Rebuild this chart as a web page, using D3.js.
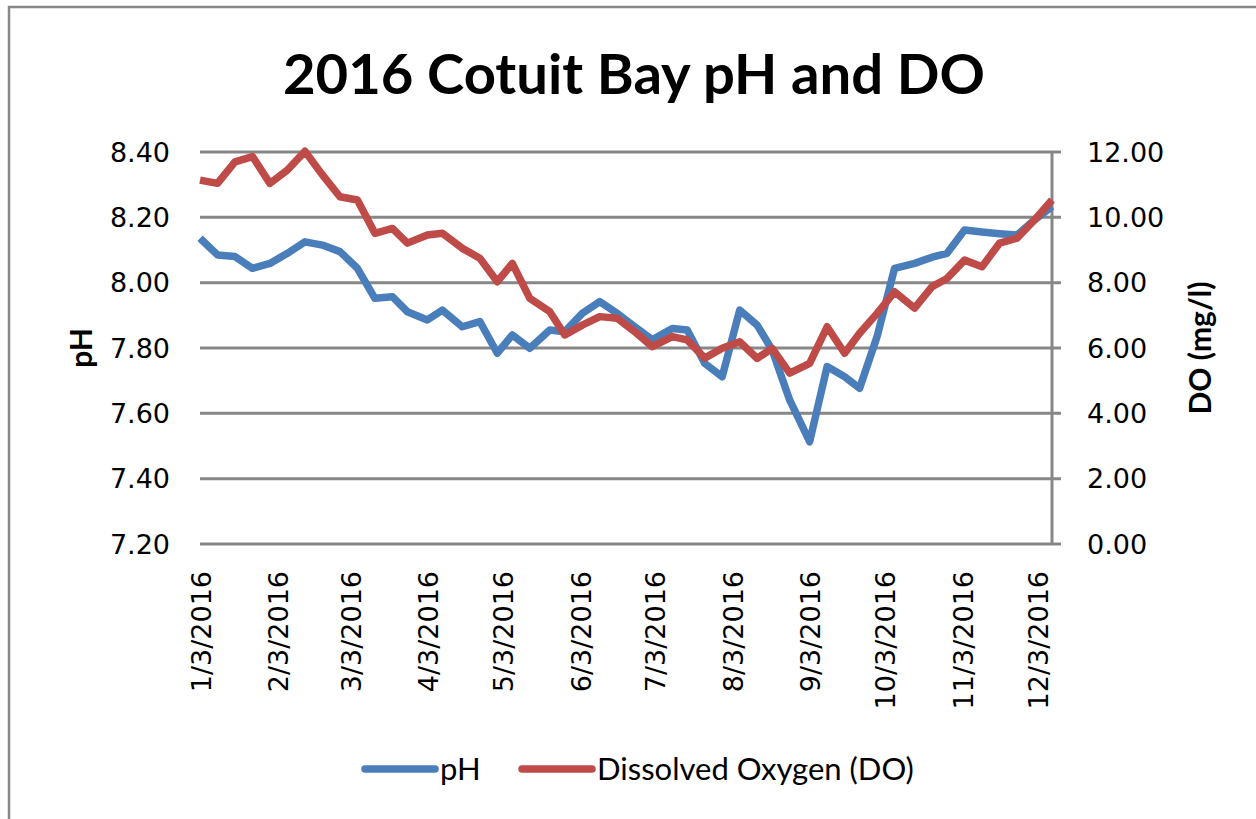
<!DOCTYPE html>
<html>
<head>
<meta charset="utf-8">
<script src="https://cdn.jsdelivr.net/npm/d3@7"></script>
<style>
  body { margin: 0; background: #fff; }
  .tick-label { font-family: "DejaVu Sans", Verdana, sans-serif; font-size: 27px; fill: #000; }
  .axis-title { font-family: Lato, "Open Sans", sans-serif; font-weight: bold; font-size: 30px; fill: #000; }
  .legend text { font-family: Lato, "Open Sans", sans-serif; font-size: 31px; fill: #000; }
</style>
</head>
<body>
<svg width="1256" height="819"></svg>
<script>
// sample dates (2016) and readings
const dates = [
  '1/3', '1/10', '1/17', '1/24', '1/31', '2/7', '2/14', '2/21', '2/28', '3/6',
  '3/13', '3/20', '3/26', '4/3', '4/9', '4/17', '4/24', '5/1', '5/7', '5/14',
  '5/22', '5/28', '6/4', '6/11', '6/18', '6/25', '7/2', '7/10', '7/16', '7/23',
  '7/30', '8/6', '8/13', '8/19', '8/26', '9/3', '9/10', '9/17', '9/23', '9/30',
  '10/7', '10/15', '10/22', '10/28', '11/4', '11/11', '11/18', '11/25', '12/2', '12/9'
];

const ph = [
  8.136, 8.085, 8.080, 8.044, 8.059, 8.090, 8.125, 8.115, 8.095, 8.044,
  7.952, 7.957, 7.911, 7.886, 7.916, 7.865, 7.881, 7.784, 7.840, 7.799,
  7.855, 7.850, 7.906, 7.942, 7.906, 7.865, 7.825, 7.860, 7.855, 7.753,
  7.712, 7.916, 7.870, 7.794, 7.641, 7.513, 7.743, 7.712, 7.677, 7.835,
  8.044, 8.059, 8.078, 8.090, 8.161, 8.155, 8.150, 8.146, 8.192, 8.233
];

const dissolvedOxygen = [
  11.14, 11.04, 11.70, 11.86, 11.04, 11.45, 12.02, 11.30, 10.63, 10.53,
  9.51, 9.66, 9.21, 9.46, 9.51, 9.05, 8.75, 8.03, 8.59, 7.52,
  7.11, 6.40, 6.70, 6.96, 6.91, 6.50, 6.04, 6.35, 6.25, 5.69,
  5.99, 6.19, 5.68, 5.99, 5.23, 5.53, 6.65, 5.84, 6.45, 7.06,
  7.72, 7.22, 7.88, 8.13, 8.69, 8.49, 9.21, 9.36, 9.92, 10.53
];

const xTickLabels = [
  '1/3/2016', '2/3/2016', '3/3/2016', '4/3/2016', '5/3/2016', '6/3/2016',
  '7/3/2016', '8/3/2016', '9/3/2016', '10/3/2016', '11/3/2016', '12/3/2016'
];
const phTicks = [7.2, 7.4, 7.6, 7.8, 8.0, 8.2, 8.4];
const doTicks = [0, 2, 4, 6, 8, 10, 12];

const parse = d3.timeParse('%m/%d/%Y');
const when = dates.map(d => parse(d + '/2016'));

const svg = d3.select('svg');
const plotLeft = 200, plotRight = 1052, plotTop = 152, plotBottom = 544;

// chart frame
svg.append('rect')
  .attr('x', 9).attr('y', 7)
  .attr('width', 1270).attr('height', 840)
  .attr('fill', '#fff')
  .attr('stroke', '#898989')
  .attr('stroke-width', 2.5);

const x = d3.scaleTime()
  .domain([when[0], when[when.length - 1]])
  .range([plotLeft, plotRight]);
const yPh = d3.scaleLinear().domain([7.2, 8.4]).range([plotBottom, plotTop]);
const yDo = d3.scaleLinear().domain([0, 12]).range([plotBottom, plotTop]);

// gridlines
svg.append('g')
  .selectAll('line')
  .data(phTicks)
  .join('line')
  .attr('x1', plotLeft).attr('x2', plotRight + 9)
  .attr('y1', d => yPh(d)).attr('y2', d => yPh(d))
  .attr('stroke', '#878787')
  .attr('stroke-width', 3);

// right axis line
svg.append('line')
  .attr('x1', plotRight).attr('x2', plotRight)
  .attr('y1', plotTop).attr('y2', plotBottom)
  .attr('stroke', '#878787')
  .attr('stroke-width', 3);

// left tick labels
svg.append('g')
  .selectAll('text')
  .data(phTicks)
  .join('text')
  .attr('class', 'tick-label')
  .attr('x', 170)
  .attr('y', d => yPh(d))
  .attr('dy', '0.36em')
  .attr('text-anchor', 'end')
  .text(d => d.toFixed(2));

// right tick labels
svg.append('g')
  .selectAll('text')
  .data(doTicks)
  .join('text')
  .attr('class', 'tick-label')
  .attr('x', 1087)
  .attr('y', d => yDo(d))
  .attr('dy', '0.36em')
  .text(d => d.toFixed(2));

// x tick labels
svg.append('g')
  .selectAll('text')
  .data(xTickLabels)
  .join('text')
  .attr('class', 'tick-label')
  .attr('transform', d => `translate(${x(parse(d)) + 1},571) rotate(-90)`)
  .attr('dy', '0.36em')
  .attr('text-anchor', 'end')
  .text(d => d);

// axis titles
svg.append('text')
  .attr('class', 'axis-title')
  .attr('transform', 'translate(81,348) rotate(-90)')
  .attr('text-anchor', 'middle')
  .attr('dy', '0.35em')
  .text('pH');

svg.append('text')
  .attr('class', 'axis-title')
  .attr('transform', 'translate(1200,348) rotate(-90)')
  .attr('text-anchor', 'middle')
  .attr('dy', '0.35em')
  .text('DO (mg/l)');

// title
svg.append('text')
  .attr('x', 634).attr('y', 94)
  .attr('text-anchor', 'middle')
  .attr('font-family', 'Lato, "Open Sans", sans-serif')
  .attr('font-weight', 'bold')
  .attr('font-size', 56)
  .attr('textLength', 702)
  .attr('lengthAdjust', 'spacingAndGlyphs')
  .text('2016 Cotuit Bay pH and DO');

// lines
const phLine = d3.line()
  .x((d, i) => x(when[i]))
  .y(d => yPh(d));
const doLine = d3.line()
  .x((d, i) => x(when[i]))
  .y(d => yDo(d));

svg.append('path')
  .datum(ph)
  .attr('d', phLine)
  .attr('fill', 'none')
  .attr('stroke', '#4A7EBB')
  .attr('stroke-width', 7.5)
  .attr('stroke-linejoin', 'round');

svg.append('path')
  .datum(dissolvedOxygen)
  .attr('d', doLine)
  .attr('fill', 'none')
  .attr('stroke', '#BE4B48')
  .attr('stroke-width', 7.5)
  .attr('stroke-linejoin', 'round');

// legend
const legend = svg.append('g').attr('class', 'legend');
const items = [
  { name: 'pH', color: '#4A7EBB', x: 365 },
  { name: 'Dissolved Oxygen (DO)', color: '#BE4B48', x: 522 }
];
items.forEach(it => {
  legend.append('line')
    .attr('x1', it.x).attr('x2', it.x + 70)
    .attr('y1', 769).attr('y2', 769)
    .attr('stroke', it.color)
    .attr('stroke-width', 7.5)
    .attr('stroke-linecap', 'round');
  legend.append('text')
    .attr('x', it.x + 75)
    .attr('y', 769)
    .attr('dy', '0.35em')
    .text(it.name);
});
</script>
</body>
</html>
